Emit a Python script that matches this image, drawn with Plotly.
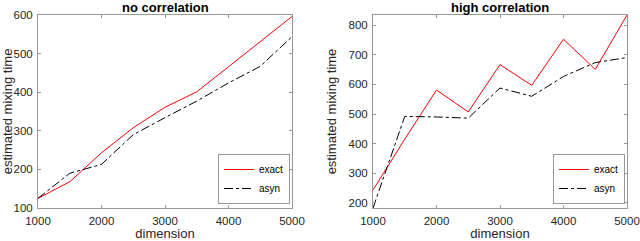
import plotly.graph_objects as go

dimension = [1000, 1500, 2000, 2500, 3000, 3500, 4000, 4500, 5000]
nocorr_exact = [125, 168, 243, 308, 361, 401, 466, 532, 596]
nocorr_asyn = [125, 190, 213, 290, 334, 377, 424, 467, 544]
highcorr_exact = [243, 415, 581, 507, 667, 597, 753, 651, 835]
highcorr_asyn = [182, 492, 490, 486, 588, 560, 627, 674, 691]

titles = ["no correlation", "high correlation"]
x_ticks = [1000, 2000, 3000, 4000, 5000]

fig = go.Figure()
font = "Liberation Sans, Arial, sans-serif"
axcol = "#262626"

fig.add_trace(go.Scatter(x=dimension, y=nocorr_exact, mode="lines", name="exact",
                         line=dict(color="#ff0000", width=1), xaxis="x", yaxis="y", legend="legend"))
fig.add_trace(go.Scatter(x=dimension, y=nocorr_asyn, mode="lines", name="asyn",
                         line=dict(color="#000000", width=1, dash="dashdot"), xaxis="x", yaxis="y", legend="legend"))
fig.add_trace(go.Scatter(x=dimension, y=highcorr_exact, mode="lines", name="exact",
                         line=dict(color="#ff0000", width=1), xaxis="x2", yaxis="y2", legend="legend2"))
fig.add_trace(go.Scatter(x=dimension, y=highcorr_asyn, mode="lines", name="asyn",
                         line=dict(color="#000000", width=1, dash="dashdot"), xaxis="x2", yaxis="y2", legend="legend2"))

W, H = 640, 241
def xd(a, b):
    return [a / W, b / W]
def yd(top, bot):
    return [(H - bot) / H, (H - top) / H]

common_ax = dict(showline=True, linecolor="#999999", linewidth=1, mirror="ticks",
                 ticks="inside", ticklen=3, tickcolor="#999999", showgrid=False, zeroline=False,
                 automargin=False, tickfont=dict(family=font, size=11.5, color=axcol))

xtitle = dict(text="dimension", font=dict(size=13, color=axcol), standoff=1)
ytitle = dict(text="estimated mixing time", font=dict(size=13, color=axcol), standoff=8)

legend_style = dict(xanchor="right", yanchor="bottom", bgcolor="white", bordercolor="#999999",
                    borderwidth=1, font=dict(family=font, size=10, color="#000"),
                    tracegroupgap=0, itemwidth=30)

fig.update_layout(
    width=W, height=H, margin=dict(l=0, r=0, t=0, b=0, autoexpand=False),
    paper_bgcolor="white", plot_bgcolor="white",
    font=dict(family=font, color=axcol),
    xaxis=dict(domain=xd(38, 292), range=[1000, 5000], tickvals=x_ticks, anchor="y",
               title=xtitle, ticklabelstandoff=2, **common_ax),
    yaxis=dict(domain=yd(15, 208), range=[100, 600], dtick=100, anchor="x",
               title=ytitle, ticklabelstandoff=2, **common_ax),
    xaxis2=dict(domain=xd(373, 627), range=[1000, 5000], tickvals=x_ticks, anchor="y2",
                title=xtitle, ticklabelstandoff=2, **common_ax),
    yaxis2=dict(domain=yd(15, 208), range=[182, 835], tickvals=[200, 300, 400, 500, 600, 700, 800], anchor="x2",
                title=ytitle, ticklabelstandoff=2, **common_ax),
    legend=dict(x=290 / W, y=(H - 204) / H, **legend_style),
    legend2=dict(x=625 / W, y=(H - 204) / H, **legend_style),
    showlegend=True,
)

for t, xc in zip(titles, [165, 500]):
    fig.add_annotation(text="<b>" + t + "</b>", x=xc / W, y=(H - 7) / H, xref="paper", yref="paper",
                       xanchor="center", yanchor="middle", showarrow=False,
                       font=dict(family=font, size=13, color="#000"))

fig.write_html("out.html", config={"displayModeBar": False},
               post_script="document.body.style.margin='0';document.body.style.overflow='hidden';")
